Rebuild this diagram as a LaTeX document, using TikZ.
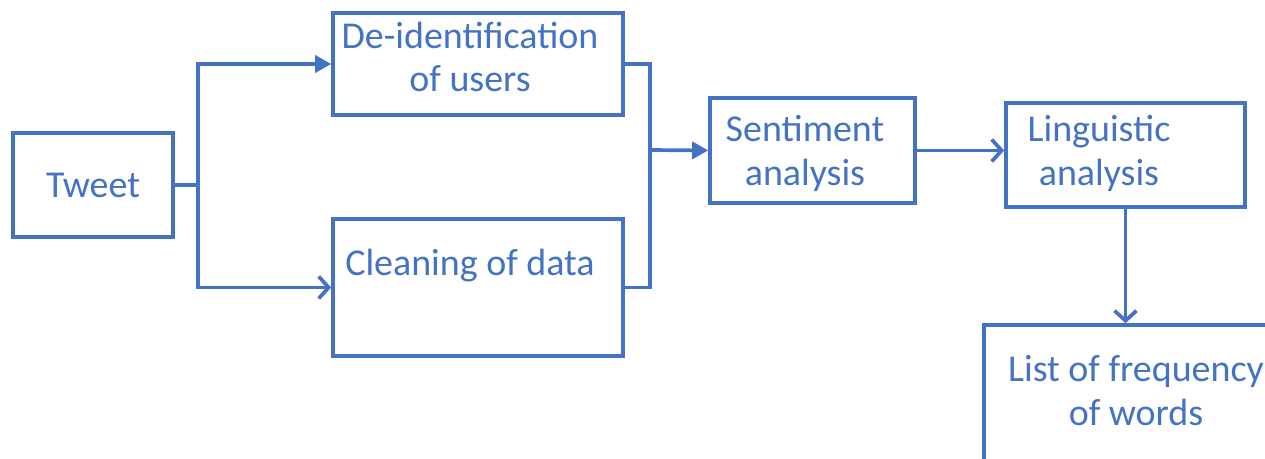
\documentclass[tikz,border=0pt]{standalone}
\usepackage{fontspec}
\setmainfont{Carlito}
\usetikzlibrary{arrows.meta}
\definecolor{flowblue}{HTML}{4472C4}

\begin{document}
\begin{tikzpicture}[x=0.02cm, y=-0.02cm, line width=2.1pt, flowblue,
  box/.style={draw, rectangle, inner sep=0pt},
  txt/.style={align=center, text=flowblue, font=\fontsize{21.6}{25}\selectfont},
  fillarr/.style={-{Triangle[length=0.32cm,width=0.34cm]}},
  openarr/.style={-{Straight Barb[length=0.2cm,width=0.44cm]}}]
\useasboundingbox (0,0) rectangle (1265,459);
\clip (0,0) rectangle (1265,459);
\node[box, minimum width=3.2cm, minimum height=2.08cm] (tweet) at (93,185) {};
\node[box, minimum width=5.8cm, minimum height=2.04cm] (deid) at (478,64) {};
\node[box, minimum width=5.8cm, minimum height=2.74cm] (clean) at (478,287.5) {};
\node[box, minimum width=4.1cm, minimum height=2.1cm] (senti) at (812.5,150.5) {};
\node[box, minimum width=4.78cm, minimum height=2.08cm] (ling) at (1125.5,155) {};
\node[box, minimum width=6.12cm, minimum height=3.5cm] (freq) at (1137,412.5) {};
\node[txt] (tweettxt) at (93,185) {Tweet};
\node[txt] (deidtxt) at (470,57) {De-identification\\of users};
\node[txt] (cleantxt) at (470,266) {Cleaning of data};
\node[txt] (sentitxt) at (805,153) {Sentiment\\analysis};
\node[txt] (lingtxt) at (1099,153) {Linguistic\\analysis};
\node[txt] (freqtxt) at (1136,391) {List of frequency\\of words};
\coordinate (split) at (198,185);
\coordinate (merge) at (650,150);
\draw (tweet.east) -- (split);
\draw[fillarr] (split) |- (deid.west);
\draw[openarr] (split) |- (clean.west);
\draw (deid.east) -| (merge);
\draw (clean.east) -| (merge);
\draw[fillarr] (merge) -- (senti.west);
\draw[openarr] (senti.east) -- (senti.east -| ling.west);
\draw[openarr] (ling.south) -- (ling.south |- freq.north);
\end{tikzpicture}
\end{document}
